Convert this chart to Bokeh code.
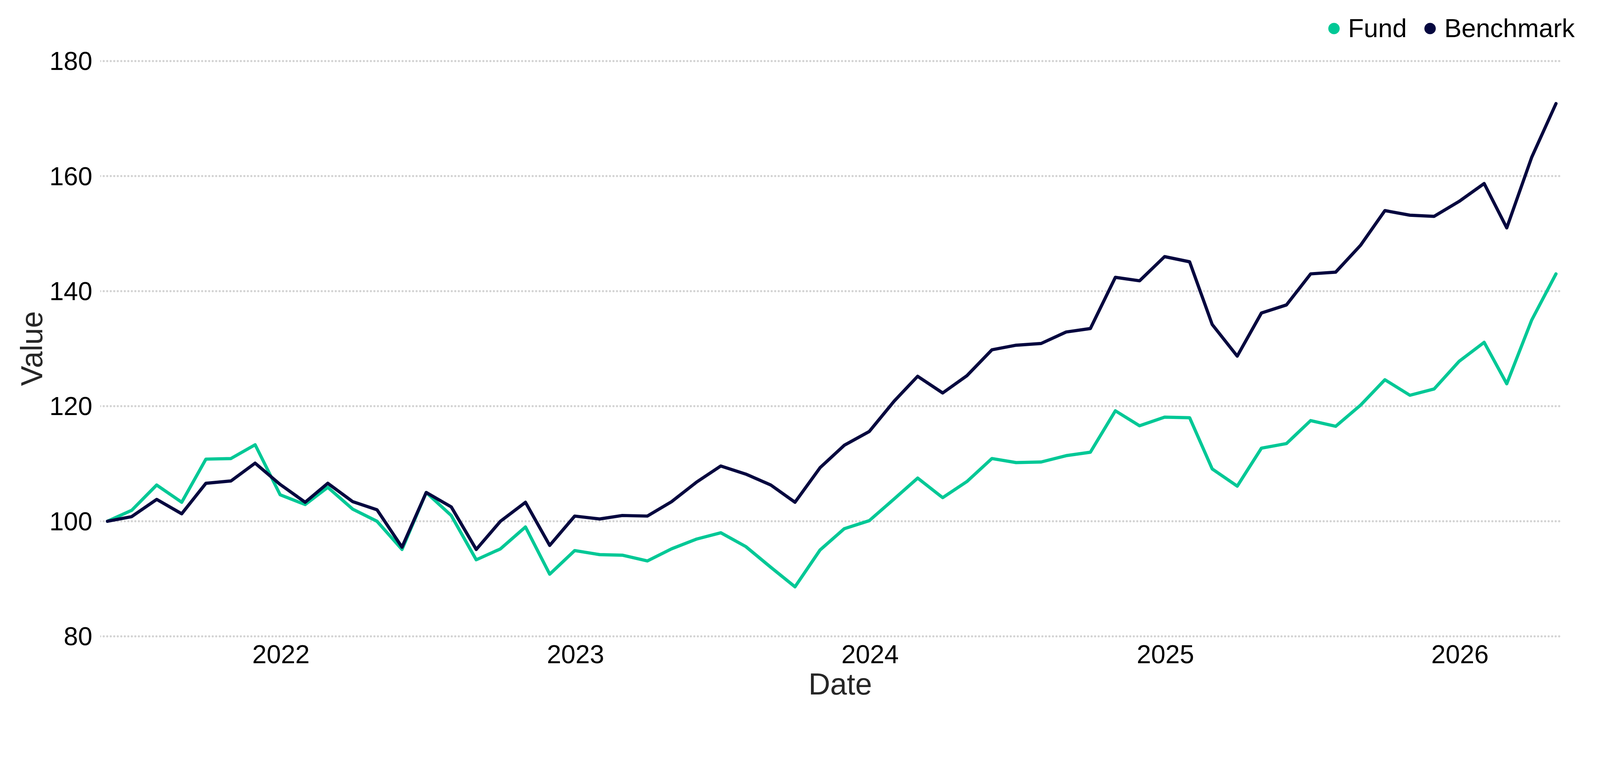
import pandas as pd
from bokeh.plotting import figure
from bokeh.models import (Range1d, FixedTicker, DatetimeTickFormatter, Legend,
                          LegendItem, ColumnDataSource, Title)
from bokeh.embed import file_html
from bokeh.resources import INLINE

# ---- data -------------------------------------------------------------
first_month_end = "2021-05-31"
n_months = 60
dates = pd.date_range(first_month_end, periods=n_months, freq="ME")

fund = [100.0, 101.9, 106.3, 103.3, 110.8, 110.9, 113.3, 104.6, 102.9, 105.9,
        102.1, 100.0, 95.1, 105.0, 101.0, 93.3, 95.2, 99.0, 90.8, 94.9,
        94.2, 94.1, 93.1, 95.2, 96.9, 98.0, 95.6, 92.0, 88.6, 95.0,
        98.7, 100.1, 103.9, 107.5, 104.1, 106.9, 110.9, 110.2, 110.3, 111.4,
        112.0, 119.2, 116.6, 118.1, 118.0, 109.1, 106.1, 112.7, 113.5, 117.5,
        116.5, 120.2, 124.6, 121.9, 123.0, 127.8, 131.1, 123.9, 135.0, 143.0]

benchmark = [100.0, 100.8, 103.8, 101.3, 106.6, 107.0, 110.1, 106.4, 103.3, 106.6,
             103.4, 102.0, 95.5, 105.0, 102.5, 95.1, 100.0, 103.3, 95.8, 100.9,
             100.4, 101.0, 100.9, 103.4, 106.8, 109.6, 108.2, 106.3, 103.3, 109.3,
             113.2, 115.6, 120.9, 125.2, 122.3, 125.3, 129.8, 130.6, 130.9, 132.9,
             133.5, 142.4, 141.8, 146.0, 145.1, 134.2, 128.7, 136.2, 137.6, 143.0,
             143.3, 148.0, 154.0, 153.2, 153.0, 155.6, 158.7, 151.0, 163.3, 172.6]

year_ticks = [2022, 2023, 2024, 2025, 2026]
value_ticks = [80, 100, 120, 140, 160, 180]
series_names = ["Fund", "Benchmark"]
series_colors = ["#00C896", "#05073F"]

FONT = "Liberation Sans"

# ---- geometry ---------------------------------------------------------
W, H = 4096, 1795
LEFT, RIGHT = 256, 51            # frame 256 .. 4045
TOP, BOTTOM = 28, 160            # frame 28 .. 1635
GRID_RIGHT = 3995.2              # where the dotted grid lines stop
PX_PER_UNIT = 14.72

x_start = dates[0] - pd.Timedelta(days=9)
x_grid_end = dates[-1] + pd.Timedelta(days=6)
px_per_day = (GRID_RIGHT - LEFT) / ((x_grid_end - x_start) / pd.Timedelta(days=1))
x_end = x_grid_end + pd.Timedelta(days=(W - RIGHT - GRID_RIGHT) / px_per_day)
y_start = 79.5
y_end = y_start + (H - BOTTOM - TOP) / PX_PER_UNIT

source = ColumnDataSource(data=dict(date=dates, fund=fund, benchmark=benchmark))

p = figure(width=W, height=H, x_axis_type="datetime",
           output_backend="svg", toolbar_location=None,
           x_range=Range1d(x_start, x_end), y_range=Range1d(y_start, y_end),
           min_border_left=LEFT, min_border_right=RIGHT,
           min_border_top=TOP, min_border_bottom=BOTTOM)
p.outline_line_color = None
p.background_fill_color = "white"
p.border_fill_color = "white"

# dotted horizontal grid lines at the value ticks
grid_src = ColumnDataSource(data=dict(x0=[x_start] * len(value_ticks),
                                      x1=[x_grid_end] * len(value_ticks),
                                      y=value_ticks))
p.segment(x0="x0", x1="x1", y0="y", y1="y", source=grid_src,
          line_color="#d3d3d3", line_width=5.5, line_dash="0 9", line_cap="round")

p.line("date", "fund", source=source, line_color=series_colors[0], line_width=8.2,
       line_join="round", line_cap="round")
p.line("date", "benchmark", source=source, line_color=series_colors[1], line_width=8.2,
       line_join="round", line_cap="round")

nan_src = ColumnDataSource(data=dict(x=[float("nan")], y=[float("nan")]))
d_f = p.scatter("x", "y", source=nan_src, size=29, fill_color=series_colors[0], line_color=None)
d_b = p.scatter("x", "y", source=nan_src, size=29, fill_color=series_colors[1], line_color=None)

# axes
xt = [pd.Timestamp(f"{y}-01-01").timestamp() * 1000 for y in year_ticks]
p.xaxis.ticker = FixedTicker(ticks=xt)
p.xaxis.formatter = DatetimeTickFormatter(years="%Y", months="%Y", days="%Y",
                                          hours="%Y", minutes="%Y", seconds="%Y",
                                          milliseconds="%Y", microseconds="%Y")
p.yaxis.ticker = FixedTicker(ticks=value_ticks)

for ax in (p.xaxis, p.yaxis):
    ax.axis_line_color = None
    ax.major_tick_line_color = None
    ax.minor_tick_line_color = None
    ax.major_tick_out = 0
    ax.major_tick_in = 0
    ax.major_label_text_font = FONT
    ax.major_label_text_font_size = "66px"
    ax.major_label_text_color = "black"
    ax.axis_label_text_font = FONT
    ax.axis_label_text_font_size = "77px"
    ax.axis_label_text_font_style = "normal"
    ax.axis_label_text_color = "#262626"

p.xaxis.axis_label = "Date"
p.xaxis.major_label_standoff = 15
p.xaxis.axis_label_standoff = 7
p.yaxis.major_label_standoff = 20

p.xgrid.grid_line_color = None
p.ygrid.grid_line_color = None

# y-axis title, centred on the 80..180 band (offset measured up from frame bottom)
value_title = Title(text="Value", align="left", offset=648, standoff=0,
                    text_font=FONT, text_font_size="77px", text_font_style="normal",
                    text_color="#262626")
p.add_layout(value_title, "left")

legend = Legend(items=[LegendItem(label=series_names[0], renderers=[d_f]),
                       LegendItem(label=series_names[1], renderers=[d_b])],
                orientation="horizontal", location=(3122, 1525),
                glyph_width=73, glyph_height=73, label_standoff=0, spacing=23,
                padding=0, margin=0, border_line_color=None,
                background_fill_alpha=0, label_text_font=FONT,
                label_text_font_size="66px", label_text_color="black",
                label_height=73)
p.add_layout(legend, "center")

open("out.html", "w").write(file_html(p, INLINE))
